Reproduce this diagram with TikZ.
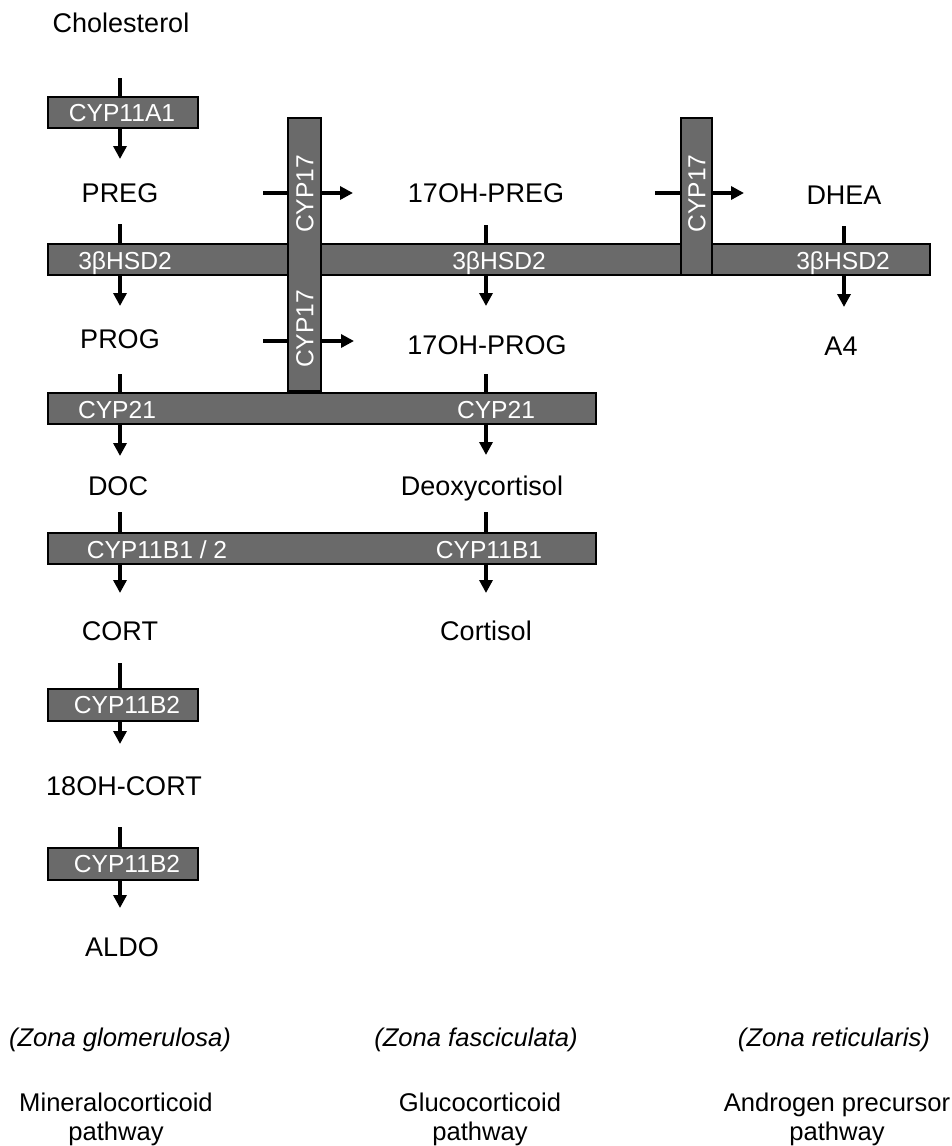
\documentclass[tikz,border=0pt]{standalone}
\usepackage{fontspec}
\setmainfont{Liberation Sans}
\usetikzlibrary{arrows.meta}
\definecolor{enzfill}{RGB}{106,106,106}
\begin{document}
\begin{tikzpicture}[x=1pt,y=-1pt,
  metab/.style={font=\fontsize{27}{32}\selectfont, inner sep=0pt, text height=19.3pt, text depth=0pt},
  enz/.style={draw=black, line width=1.5pt, fill=enzfill, inner sep=0pt},
  enzlabel/.style={text=white, font=\fontsize{24.6}{29}\selectfont, inner sep=0pt, text height=17.6pt, text depth=0pt},
  zone/.style={font=\fontsize{25.6}{30}\selectfont\itshape, inner sep=0pt, text height=18.3pt, text depth=0pt},
  pathlabel/.style={font=\fontsize{25.6}{29}\selectfont, align=center, inner sep=0pt, anchor=north},
  rxn/.style={line width=3.6pt, -{Triangle[length=13pt,width=13pt]}}]
\useasboundingbox (0,0) rectangle (952,1146);

% metabolites
\node[metab] (chol)   at (121,22.5) {Cholesterol};
\node[metab] (preg)   at (120,193)  {PREG};
\node[metab] (prog)   at (120,339)  {PROG};
\node[metab] (doc)    at (118,486)  {DOC};
\node[metab] (cort)   at (120,631)  {CORT};
\node[metab] (oh18)   at (124,786)  {18OH-CORT};
\node[metab] (aldo)   at (122,947)  {ALDO};
\node[metab] (ohpreg) at (486,193)  {17OH-PREG};
\node[metab] (ohprog) at (487,345)  {17OH-PROG};
\node[metab] (deoxy)  at (482,486)  {Deoxycortisol};
\node[metab] (cortisol) at (486,631) {Cortisol};
\node[metab] (dhea)   at (844,195)  {DHEA};
\node[metab] (a4)     at (841,346)  {A4};

% reactions (drawn beneath the enzyme bars)
\draw[rxn, shorten <=55.5pt, shorten >=34pt] (chol.center -| preg.center) -- (preg.center);
\draw[rxn, shorten <=31pt, shorten >=33pt] (preg.center) -- (prog.center);
\draw[rxn, shorten <=35pt, shorten >=30pt] (prog.center) -- (prog.center |- doc.center);
\draw[rxn, shorten <=26pt, shorten >=38pt] (prog.center |- doc.center) -- (cort.center);
\draw[rxn, shorten <=32pt, shorten >=42pt] (cort.center) -- (cort.center |- oh18.center);
\draw[rxn, shorten <=41pt, shorten >=39pt] (cort.center |- oh18.center) -- (cort.center |- aldo.center);
\draw[rxn, shorten <=32pt, shorten >=39pt] (ohpreg.center) -- (ohpreg.center |- ohprog.center);
\draw[rxn, shorten <=29pt, shorten >=31pt] (ohpreg.center |- ohprog.center) -- (ohpreg.center |- deoxy.center);
\draw[rxn, shorten <=26pt, shorten >=38pt] (ohpreg.center |- deoxy.center) -- (cortisol.center);
\draw[rxn, shorten <=31pt, shorten >=39pt] (dhea.center) -- (dhea.center |- a4.center);
\draw[rxn, shorten <=143pt, shorten >=133pt] (preg.center) -- (preg.center -| ohpreg.center);
\draw[rxn, shorten <=143pt, shorten >=133pt] ([yshift=-2pt]prog.center) -- ([yshift=-2pt]prog.center -| ohprog.center);
\draw[rxn, shorten <=169pt, shorten >=100pt] (ohpreg.center) -- (ohpreg.center -| dhea.center);

% enzyme bars
\node[enz, minimum width=150pt, minimum height=31pt] (b11a1) at (123,112.5) {};
\node[enz, minimum width=882pt, minimum height=31pt] (bhsd)  at (489,259.5) {};
\node[enz, minimum width=548pt, minimum height=31pt] (b21)   at (322,408.5) {};
\node[enz, minimum width=548pt, minimum height=31pt] (b11b1) at (322,548.5) {};
\node[enz, minimum width=150pt, minimum height=32pt] (b11b2a) at (123,705) {};
\node[enz, minimum width=150pt, minimum height=32pt] (b11b2b) at (123,864) {};
\node[enz, minimum width=33pt, minimum height=273pt] (b17a) at (304.5,254.5) {};
\node[enz, minimum width=31pt, minimum height=157pt] (b17b) at (696.5,196.5) {};

% enzyme names
\node[enzlabel] at (122,112.5) {CYP11A1};
\node[enzlabel] at (125,261) {3βHSD2};
\node[enzlabel] at (499,261) {3βHSD2};
\node[enzlabel] at (843,261) {3βHSD2};
\node[enzlabel, rotate=90] at (304.5,194) {CYP17};
\node[enzlabel, rotate=90] at (304.5,329) {CYP17};
\node[enzlabel, rotate=90] at (696.5,193.5) {CYP17};
\node[enzlabel] at (117,410) {CYP21};
\node[enzlabel] at (496,410) {CYP21};
\node[enzlabel] at (157,550) {CYP11B1 / 2};
\node[enzlabel] at (489,550) {CYP11B1};
\node[enzlabel] at (127,705) {CYP11B2};
\node[enzlabel] at (127,864) {CYP11B2};

% zones and pathways
\node[zone] (zg) at (120,1037) {(Zona glomerulosa)};
\node[zone] (zf) at (476,1037) {(Zona fasciculata)};
\node[zone] (zr) at (834,1037) {(Zona reticularis)};
\node[pathlabel] (pm) at (116,1093) {Mineralocorticoid\\pathway};
\node[pathlabel] (pg) at (480,1093) {Glucocorticoid\\pathway};
\node[pathlabel] (pa) at (837,1093) {Androgen precursor\\pathway};
\end{tikzpicture}
\end{document}
